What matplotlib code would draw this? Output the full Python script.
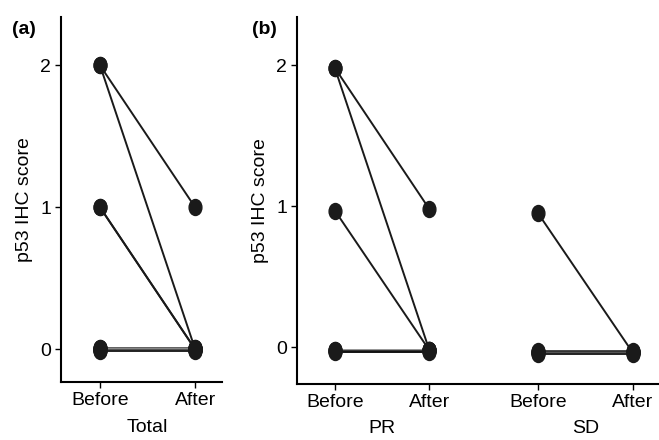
import matplotlib.pyplot as plt
from matplotlib.path import Path
from matplotlib.transforms import Affine2D

plt.rcParams['font.family'] = ['Liberation Sans', 'DejaVu Sans']

# (a) Total: paired scores, before -> after
total_before = [2.0, 2.0, 1.0, 1.0, 0.01, 0.007, 0.003, 0.0, -0.003, -0.007, -0.01]
total_after = [1.0, 0.0, 0.0, 0.0, 0.01, 0.007, 0.003, 0.0, -0.003, -0.007, -0.01]
total_colors = ['#1a1a1a', '#1a1a1a', '#1a1a1a', '#1a1a1a',
                '#333333', '#666666', '#222222', '#888888', '#444444', '#555555', '#222222']

# (b) PR and SD groups
pr_before = [1.98, 1.98, 0.97, -0.015, -0.02, -0.025, -0.03]
pr_after = [0.98, -0.02, -0.02, -0.015, -0.02, -0.025, -0.03]
pr_colors = ['#1a1a1a', '#1a1a1a', '#1a1a1a', '#555555', '#999999', '#333333', '#111111']

sd_before = [0.95, -0.025, -0.03, -0.035, -0.04, -0.045]
sd_after = [-0.035, -0.025, -0.03, -0.035, -0.04, -0.045]
sd_colors = ['#1a1a1a', '#444444', '#777777', '#333333', '#555555', '#222222']

x_total = [1, 2]
x_pr = [1, 2]
x_sd = [3.15, 4.15]
tick_labels = ['Before', 'After']

fs = 14
# slightly tall ellipse marker, like the original figure
oval = Affine2D().scale(0.8, 1.0).transform_path(Path.unit_circle())

fig = plt.figure(figsize=(6.59, 4.40), dpi=100)
ax1 = fig.add_axes([0.0926, 0.132, 0.244, 0.829])
ax2 = fig.add_axes([0.4507, 0.127, 0.548, 0.834])


def pairs(ax, xs, before, after, colors):
    for b, a, c in zip(before, after, colors):
        ax.plot(xs, [b, a], color=c, lw=1.4, zorder=2)
    ax.plot([xs[0]] * len(before), before, ls='none', marker=oval,
            color='#1a1a1a', ms=11.5, zorder=3)
    ax.plot([xs[1]] * len(after), after, ls='none', marker=oval,
            color='#1a1a1a', ms=11.5, zorder=3)


def style(ax):
    for s in ['top', 'right']:
        ax.spines[s].set_visible(False)
    for s in ['left', 'bottom']:
        ax.spines[s].set_linewidth(1.5)
    ax.tick_params(direction='out', length=4, width=1, labelsize=fs, pad=3)
    ax.set_yticks([0, 1, 2])
    ax.set_ylabel('p53 IHC score', fontsize=fs, labelpad=5)


pairs(ax1, x_total, total_before, total_after, total_colors)
style(ax1)
ax1.set_xlim(0.59, 2.28)
ax1.set_ylim(-0.23, 2.34)
ax1.set_xticks(x_total)
ax1.set_xticklabels(tick_labels)
ax1.text(1.5, -0.102, 'Total', transform=ax1.get_xaxis_transform(),
         ha='center', va='top', fontsize=fs)
fig.text(0.018, 0.922, '(a)', fontsize=fs, fontweight='bold')

pairs(ax2, x_pr, pr_before, pr_after, pr_colors)
pairs(ax2, x_sd, sd_before, sd_after, sd_colors)
style(ax2)
ax2.set_xlim(0.6, 4.42)
ax2.set_ylim(-0.26, 2.34)
ax2.set_xticks(x_pr + x_sd)
ax2.set_xticklabels(tick_labels * 2)
ax2.text(1.5, -0.097, 'PR', transform=ax2.get_xaxis_transform(),
         ha='center', va='top', fontsize=fs)
ax2.text(3.65, -0.097, 'SD', transform=ax2.get_xaxis_transform(),
         ha='center', va='top', fontsize=fs)
fig.text(0.383, 0.922, '(b)', fontsize=fs, fontweight='bold')

fig.savefig('out.png', dpi=100)
